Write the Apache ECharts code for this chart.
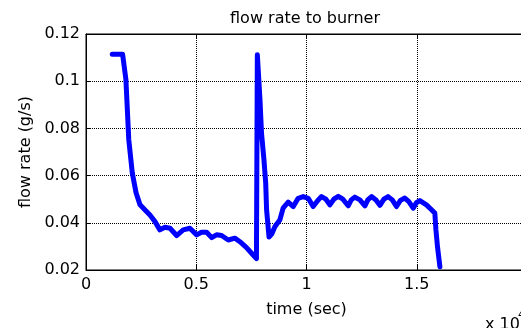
<!DOCTYPE html>
<html>
<head>
<meta charset="utf-8">
<script src="https://cdn.jsdelivr.net/npm/echarts@6/dist/echarts.min.js"></script>
<style>html,body{margin:0;padding:0;background:#fff}#c{width:521px;height:328px}</style>
</head>
<body>
<div id="c"></div>
<script>
// time in units of 1e4 sec
var timeK = [0.119,0.166,0.174,0.181,0.194,0.210,0.227,0.245,0.270,0.290,0.313,0.335,0.358,0.381,0.411,0.441,0.471,0.502,0.524,0.547,0.570,0.592,0.615,0.645,0.675,0.698,0.728,0.751,0.773,0.777,0.783,0.789,0.796,0.807,0.815,0.819,0.830,0.842,0.857,0.879,0.894,0.917,0.940,0.962,0.985,1.008,1.030,1.053,1.068,1.088,1.106,1.124,1.144,1.165,1.189,1.203,1.219,1.242,1.265,1.278,1.295,1.315,1.333,1.351,1.370,1.389,1.408,1.426,1.446,1.464,1.484,1.498,1.514,1.544,1.567,1.582,1.587,1.594,1.605];
var flowRate = [0.1114,0.1114,0.1108,0.1007,0.0752,0.0611,0.0527,0.0476,0.0452,0.0433,0.0405,0.0370,0.0381,0.0377,0.0346,0.0370,0.0377,0.0349,0.0360,0.0360,0.0337,0.0349,0.0346,0.0327,0.0335,0.0320,0.0295,0.0271,0.0248,0.1112,0.1110,0.0922,0.0780,0.0667,0.0568,0.0455,0.0340,0.0352,0.0384,0.0412,0.0462,0.0488,0.0469,0.0504,0.0511,0.0504,0.0469,0.0497,0.0511,0.0500,0.0476,0.0500,0.0512,0.0500,0.0472,0.0497,0.0509,0.0497,0.0472,0.0497,0.0511,0.0497,0.0474,0.0500,0.0511,0.0497,0.0469,0.0495,0.0505,0.0490,0.0462,0.0485,0.0494,0.0476,0.0455,0.0441,0.0370,0.0299,0.0214];
var xTicks = {min:0, max:2, step:0.5};
var yTicks = {min:0.02, max:0.12, step:0.02};
var titleText = 'flow rate to burner';
var xName = 'time (sec)';
var yName = 'flow rate (g/s)';

var data = timeK.map(function(t,i){return [t, flowRate[i]];});
var FONT = 'DejaVu Sans';
var chart = echarts.init(document.getElementById('c'), null, {renderer:'canvas'});
var gridLine = {show:true, lineStyle:{color:'#000', width:1, type:[1,1]}};
chart.setOption({
  animation:false,
  backgroundColor:'#fff',
  title:{text:titleText, left:300, top:6, textAlign:'center',
    textStyle:{fontFamily:FONT, fontSize:16, fontWeight:'normal', color:'#000'}},
  grid:{left:86, width:441, top:34, bottom:58, containLabel:false, outerBoundsMode:'none',
    show:true, borderColor:'#000', borderWidth:1, backgroundColor:'#fff'},
  xAxis:[{
    type:'value', min:xTicks.min, max:xTicks.max, interval:xTicks.step, position:'bottom',
    name:xName, nameLocation:'middle', nameGap:32,
    nameTextStyle:{fontFamily:FONT, fontSize:16, color:'#000'},
    axisLine:{show:true, lineStyle:{color:'#000', width:1}},
    axisTick:{show:true, inside:true, length:5, lineStyle:{color:'#000'}},
    axisLabel:{fontFamily:FONT, fontSize:16, color:'#000', margin:7,
      formatter:function(v){return String(+v.toFixed(2));}},
    splitLine:gridLine
  },{
    type:'value', min:xTicks.min, max:xTicks.max, interval:xTicks.step, position:'top',
    axisLine:{show:true, lineStyle:{color:'#000', width:1}},
    axisTick:{show:true, inside:true, length:5, lineStyle:{color:'#000'}},
    axisLabel:{show:false}, splitLine:{show:false}
  }],
  yAxis:[{
    type:'value', min:yTicks.min, max:yTicks.max, interval:yTicks.step,
    name:yName, nameLocation:'middle', nameGap:52,
    nameTextStyle:{fontFamily:FONT, fontSize:16, color:'#000'},
    axisLine:{show:true, lineStyle:{color:'#000', width:1}},
    axisTick:{show:true, inside:true, length:5, lineStyle:{color:'#000'}},
    axisLabel:{fontFamily:FONT, fontSize:16, color:'#000', margin:6,
      formatter:function(v){return String(+v.toFixed(2));}},
    splitLine:gridLine
  }],
  graphic:[{
    type:'text', left:485, top:317,
    style:{text:'x 10', font:'16px "DejaVu Sans"', fill:'#000'}
  },{
    type:'text', left:518, top:310,
    style:{text:'4', font:'11px "DejaVu Sans"', fill:'#000'}
  }],
  series:[{
    type:'line', data:data, xAxisIndex:0, yAxisIndex:0,
    showSymbol:false, symbol:'none', smooth:false,
    lineStyle:{color:'#0000ff', width:5, cap:'round', join:'round'}
  }]
});
</script>
</body>
</html>
